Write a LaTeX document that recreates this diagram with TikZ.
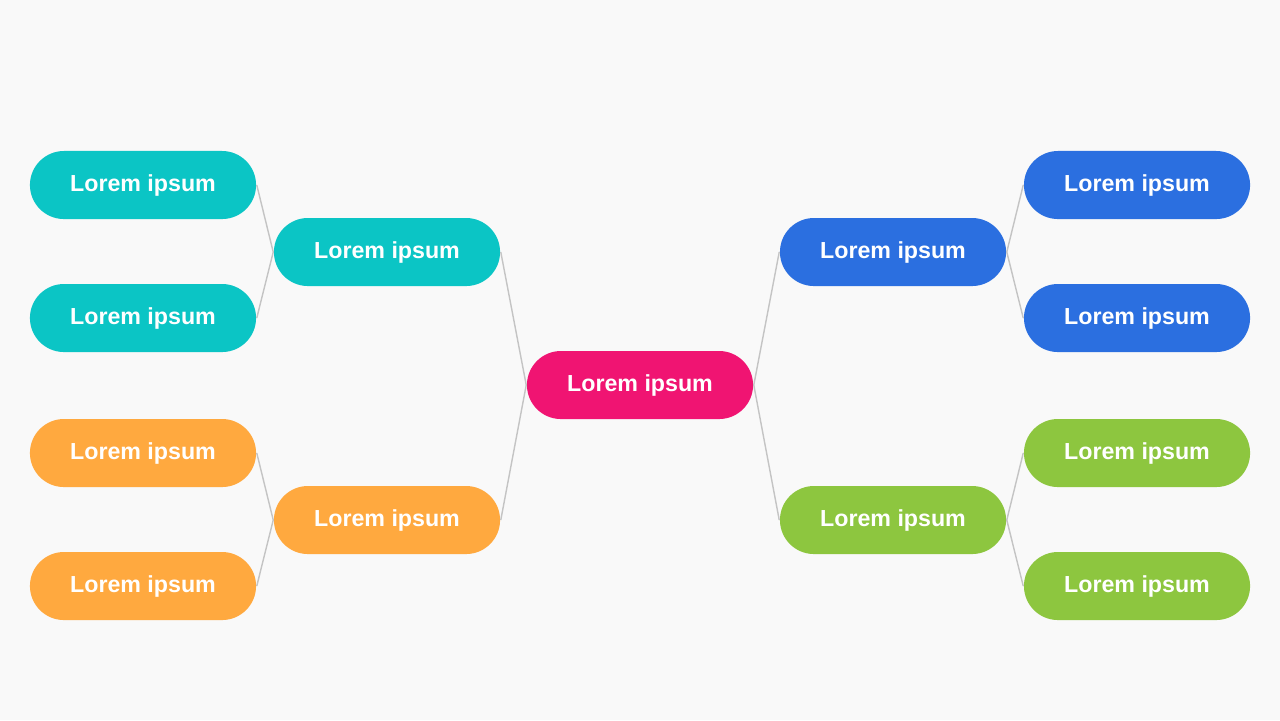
\documentclass[tikz,border=0pt]{standalone}
\usepackage{fontspec}
\setmainfont{Liberation Sans}
\definecolor{bgcolor}{HTML}{F9F9F9}
\definecolor{linkcolor}{HTML}{C4C4C4}
\definecolor{pinkfill}{HTML}{F01472}
\definecolor{tealfill}{HTML}{0BC5C5}
\definecolor{bluefill}{HTML}{2B6FE0}
\definecolor{orangefill}{HTML}{FFA93F}
\definecolor{greenfill}{HTML}{8DC63F}
\tikzset{
  pill/.style={fill=#1, text=white, rounded corners=0.34cm,
    minimum width=2.26cm, minimum height=0.68cm, inner sep=0pt,
    font=\bfseries\fontsize{6.6}{7}\selectfont},
  link/.style={draw=linkcolor, line width=0.4pt}
}
\begin{document}
\begin{tikzpicture}[x=0.01cm, y=-0.01cm]

\fill[bgcolor] (0,0) rectangle (1280,720);

% centre
\node [pill=pinkfill] (centre) at (640,385) {Lorem ipsum};

% middle level
\node [pill=tealfill] (lefttop) at (387,252) {Lorem ipsum};
\node [pill=orangefill] (leftbot) at (387,520) {Lorem ipsum};
\node [pill=bluefill] (righttop) at (893,252) {Lorem ipsum};
\node [pill=greenfill] (rightbot) at (893,520) {Lorem ipsum};

% outer level
\node [pill=tealfill] (lt1) at (143,185) {Lorem ipsum};
\node [pill=tealfill] (lt2) at (143,318) {Lorem ipsum};
\node [pill=orangefill] (lb1) at (143,453) {Lorem ipsum};
\node [pill=orangefill] (lb2) at (143,586) {Lorem ipsum};
\node [pill=bluefill] (rt1) at (1137,185) {Lorem ipsum};
\node [pill=bluefill] (rt2) at (1137,318) {Lorem ipsum};
\node [pill=greenfill] (rb1) at (1137,453) {Lorem ipsum};
\node [pill=greenfill] (rb2) at (1137,586) {Lorem ipsum};

% links
\draw [link] (lefttop.east) -- (centre.west);
\draw [link] (leftbot.east) -- (centre.west);
\draw [link] (centre.east) -- (righttop.west);
\draw [link] (centre.east) -- (rightbot.west);
\foreach \a/\b in {lt1/lefttop, lt2/lefttop, lb1/leftbot, lb2/leftbot}
  \draw [link] (\a.east) -- (\b.west);
\foreach \a/\b in {righttop/rt1, righttop/rt2, rightbot/rb1, rightbot/rb2}
  \draw [link] (\a.east) -- (\b.west);

\end{tikzpicture}
\end{document}
